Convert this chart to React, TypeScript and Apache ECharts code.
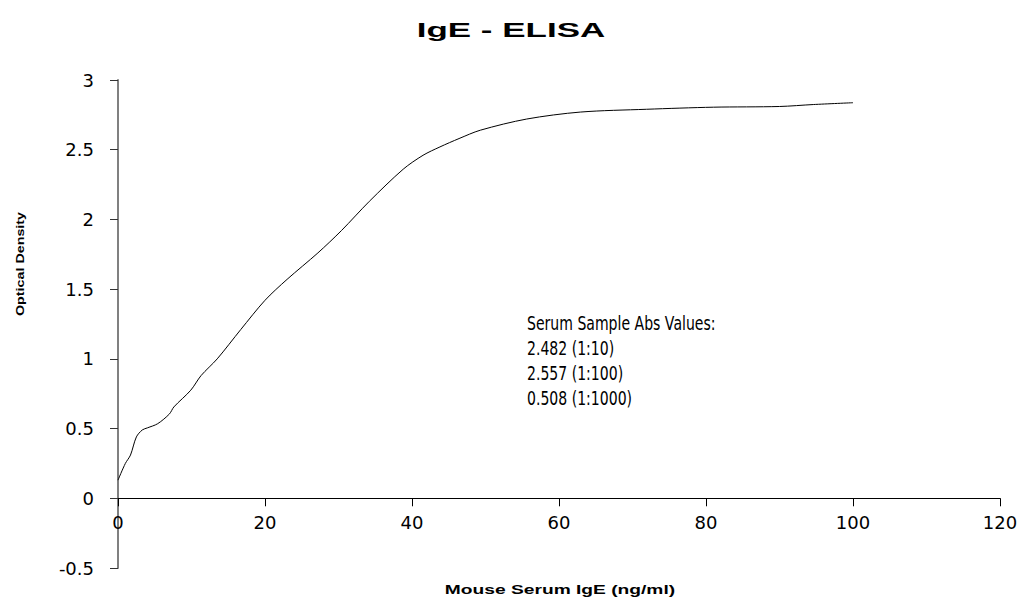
import React, { useEffect, useRef } from "react";
import * as echarts from "echarts";

const titleText = "IgE - ELISA";
const xAxisName = "Mouse Serum IgE (ng/ml)";
const yAxisName = "Optical Density";
const noteLines = ["Serum Sample Abs Values:", "2.482 (1:10)", "2.557 (1:100)", "0.508 (1:1000)"];

const concentration = [0, 1, 1.7, 2.5, 3.3, 4, 5.4, 7, 7.6, 9.9, 11.3, 13.5, 16.7, 20, 23, 27.2, 30.4, 34.2, 38.8, 41.5, 43.8, 46.4, 49.3, 55.6, 62.9, 71.9, 81, 90, 94.6, 100];
const opticalDensity = [0.13, 0.25, 0.31, 0.44, 0.49, 0.505, 0.535, 0.605, 0.655, 0.775, 0.88, 1.0, 1.21, 1.42, 1.57, 1.76, 1.92, 2.13, 2.36, 2.46, 2.52, 2.58, 2.64, 2.72, 2.77, 2.79, 2.805, 2.81, 2.824, 2.837];

const xMin = 0, xMax = 120, xStep = 20;
const yMin = -0.5, yMax = 3, yStep = 0.5;

const gridTop = 80;
const gridBottom = 34;
const chartHeight = 602;

export default function App() {
  const ref = useRef<HTMLDivElement>(null);
  useEffect(() => {
    if (!ref.current) return;
    const chart = echarts.init(ref.current, undefined, { renderer: "svg" });
    const data = concentration.map((x, i) => [x, opticalDensity[i]]);
    const plotH = chartHeight - gridTop - gridBottom;
    const zeroOffset = -((0 - yMin) / (yMax - yMin)) * plotH;
    chart.setOption({
      animation: false,
      backgroundColor: "#ffffff",
      grid: { left: 118, right: 29, top: gridTop, bottom: gridBottom, containLabel: false },
      xAxis: {
        type: "value",
        min: xMin,
        max: xMax,
        interval: xStep,
        offset: zeroOffset,
        axisLine: { onZero: false, lineStyle: { color: "#000", width: 1 } },
        axisTick: { show: true, inside: false, length: 8, lineStyle: { color: "#000" } },
        axisLabel: { color: "#000", fontFamily: "DejaVu Sans", fontSize: 18, margin: 15, showMinLabel: true, showMaxLabel: true },
        splitLine: { show: false },
      },
      yAxis: {
        type: "value",
        min: yMin,
        max: yMax,
        interval: yStep,
        axisLine: { show: true, onZero: false, lineStyle: { color: "#808080", width: 2 } },
        axisTick: { show: true, inside: false, length: 8, lineStyle: { color: "#333" } },
        axisLabel: { color: "#000", fontFamily: "DejaVu Sans", fontSize: 18, margin: 24 },
        splitLine: { show: false },
      },
      series: [
        {
          type: "line",
          data,
          smooth: 0.3,
          showSymbol: false,
          symbol: "none",
          lineStyle: { color: "#000", width: 1 },
        },
      ],
      graphic: [
        {
          type: "text",
          x: 511,
          y: 30,
          scaleX: 1.75,
          style: {
            text: titleText,
            fill: "#000",
            font: "bold 20px 'Liberation Sans', Arial, sans-serif",
            textAlign: "center",
            textVerticalAlign: "middle",
          },
        },
        {
          type: "text",
          x: 20,
          y: 264,
          rotation: Math.PI / 2,
          scaleX: 1.3,
          style: {
            text: yAxisName,
            fill: "#000",
            font: "bold 11px 'Liberation Sans', Arial, sans-serif",
            textAlign: "center",
            textVerticalAlign: "middle",
          },
        },
        {
          type: "text",
          x: 560,
          y: 590,
          scaleX: 1.6,
          style: {
            text: xAxisName,
            fill: "#000",
            font: "bold 12px 'Liberation Sans', Arial, sans-serif",
            textAlign: "center",
            textVerticalAlign: "middle",
          },
        },
        {
          type: "text",
          x: 527,
          y: 311,
          scaleX: 0.74,
          style: {
            text: noteLines.join("\n"),
            fill: "#000",
            font: "19px 'DejaVu Sans', Verdana, sans-serif",
            lineHeight: 25,
            textAlign: "left",
            textVerticalAlign: "top",
          },
        },
      ],
    });
    return () => chart.dispose();
  }, []);
  return (
    <div
      ref={ref}
      style={{ position: "fixed", left: 0, top: 0, width: 1029, height: 602, background: "#fff" }}
    />
  );
}
